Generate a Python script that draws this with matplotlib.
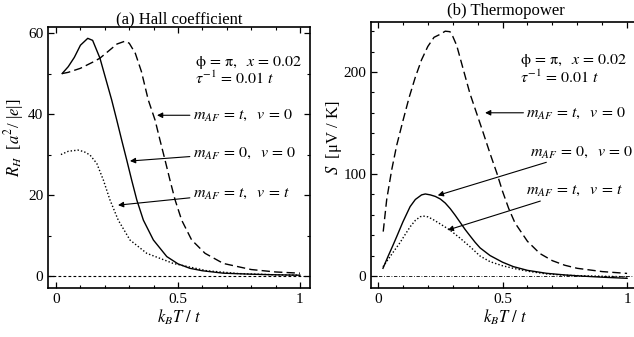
import matplotlib
matplotlib.use("Agg")
import matplotlib.pyplot as plt
from matplotlib.ticker import MultipleLocator

plt.rcParams['font.family'] = ['Liberation Serif', 'DejaVu Serif']
plt.rcParams['mathtext.fontset'] = 'stix'

# ---- (a) Hall coefficient ----
hall_solid_x = [0.025, 0.05, 0.075, 0.1, 0.13, 0.15, 0.18, 0.2, 0.228, 0.249, 0.269, 0.29,
                0.31, 0.331, 0.358, 0.399, 0.454, 0.5, 0.549, 0.6, 0.686, 0.8, 0.9, 1.0]
hall_solid_y = [50, 51.7, 54, 57, 58.7, 58.2, 53.8, 49.5, 43.5, 38.5, 33.6, 28.6,
                23.7, 18.8, 13.8, 8.9, 4.8, 3.0, 1.9, 1.3, 0.7, 0.45, 0.3, 0.2]

hall_dash_x = [0.025, 0.05, 0.1, 0.15, 0.18, 0.2, 0.25, 0.283, 0.3, 0.325, 0.35, 0.378,
               0.406, 0.426, 0.447, 0.467, 0.488, 0.515, 0.556, 0.611, 0.686, 0.8, 0.9, 1.0]
hall_dash_y = [50, 50.3, 51.3, 52.8, 53.8, 54.8, 57.3, 58, 57.5, 55, 50.5, 43.5,
               38.5, 33.6, 28.6, 23.7, 18.8, 13.8, 8.9, 5.6, 3.1, 1.6, 1.0, 0.7]

hall_dot_x = [0.02, 0.05, 0.09, 0.115, 0.139, 0.167, 0.194, 0.221, 0.255, 0.303, 0.372,
              0.481, 0.618, 0.75, 0.9, 1.0]
hall_dot_y = [30, 30.8, 31.1, 30.7, 29.9, 27.8, 23.7, 18.8, 13.8, 8.9, 5.6,
              3.1, 1.3, 0.6, 0.3, 0.2]

# ---- (b) Thermopower ----
tp_dash_x = [0.021, 0.035, 0.055, 0.075, 0.1, 0.125, 0.15, 0.175, 0.2, 0.225, 0.25, 0.27,
             0.289, 0.3, 0.316, 0.343, 0.369, 0.396, 0.423, 0.45, 0.477, 0.5, 0.525, 0.55,
             0.6, 0.65, 0.7, 0.75, 0.8, 0.9, 1.0]
tp_dash_y = [43.5, 75, 104, 128, 152, 175, 195, 212, 225, 234, 237, 240,
             239.5, 235, 226, 202, 179, 159.5, 140, 120, 101, 83, 66, 52,
             34, 22, 15, 10.5, 7.5, 4.3, 2.5]

tp_solid_x = [0.02, 0.04, 0.06, 0.075, 0.1, 0.129, 0.15, 0.175, 0.19, 0.21, 0.23, 0.25,
              0.27, 0.29, 0.31, 0.33, 0.35, 0.369, 0.39, 0.41, 0.45, 0.5, 0.543, 0.6,
              0.677, 0.75, 0.81, 0.9, 1.0]
tp_solid_y = [7.5, 19, 30, 38.5, 53, 68, 75, 79.5, 80.4, 79.5, 78, 75.5,
              71.5, 66, 59.5, 52.5, 45.5, 39.5, 33, 27.5, 20, 13.5, 9.2, 5.5,
              2.6, 1, 0, -1.2, -2.3]

tp_dot_x = [0.02, 0.04, 0.06, 0.088, 0.11, 0.13, 0.15, 0.169, 0.18, 0.2, 0.22, 0.25,
            0.289, 0.33, 0.369, 0.41, 0.45, 0.5, 0.543, 0.6, 0.677, 0.75, 0.85, 1.0]
tp_dot_y = [9, 16, 23, 32.5, 41, 48.5, 54.5, 58, 58.8, 58, 55.5, 51,
            45, 37, 28.8, 19.5, 14, 10, 7.5, 4.7, 2, 0.7, 0, -0.8]

curve_labels = [r'$m_{AF}\,=\,t,\ \ v\,=\,\mathit{0}$',
                r'$m_{AF}\,=\,\mathit{0},\ \ v\,=\,\mathit{0}$',
                r'$m_{AF}\,=\,t,\ \ v\,=\,t$']
param_line1 = r'$\mathrm{\phi}\,=\,\mathrm{\pi},\ \ x\,=\,\mathit{0.02}$'
param_line2 = r'$\tau^{-1}\,=\,\mathit{0.01}\ t$'

fig = plt.figure(figsize=(6.34, 3.37), dpi=100)
ax1 = fig.add_axes([0.0757, 0.1454, 0.4132, 0.7745])
ax2 = fig.add_axes([0.5852, 0.1454, 0.4243, 0.7893])

dash_style = (0, (6, 3))
dot_style = (0, (1, 1.5))


def style_axes(ax):
    ax.tick_params(which='both', direction='in', top=True, right=True, labelsize=11)
    ax.tick_params(which='major', length=4, width=0.9)
    ax.tick_params(which='minor', length=2.5, width=0.8)
    for sp in ax.spines.values():
        sp.set_linewidth(1.2)
    ax.set_xticks([0, 0.5, 1])
    ax.set_xticklabels(['0', '0.5', '1'])
    ax.xaxis.set_minor_locator(MultipleLocator(0.1))
    ax.set_xlabel(r'$k_BT\ /\ t$', fontsize=12, labelpad=1)


# panel (a)
ax1.plot(hall_solid_x, hall_solid_y, color='black', lw=1.0)
ax1.plot(hall_dash_x, hall_dash_y, color='black', lw=1.0, linestyle=dash_style)
ax1.plot(hall_dot_x, hall_dot_y, color='black', lw=1.0, linestyle=dot_style)
ax1.axhline(0, color='black', lw=0.8, linestyle=(0, (2.5, 2)))
ax1.set_xlim(-0.033, 1.041)
ax1.set_ylim(-2.96, 61.5)
ax1.set_yticks([0, 20, 40, 60])
ax1.yaxis.set_minor_locator(MultipleLocator(10))
style_axes(ax1)
ax1.set_ylabel(r'$R_H$  [$a^2$/ |$e$|]', fontsize=12)
ax1.yaxis.set_label_coords(-0.085, 0.575)
ax1.set_title('(a) Hall coefficient', fontsize=12, pad=2)
ax1.text(0.57, 52.8, param_line1, fontsize=11.5, va='center')
ax1.text(0.57, 48.6, param_line2, fontsize=11.5, va='center')

arrow = dict(arrowstyle='-|>', color='black', lw=0.8, mutation_scale=8, shrinkA=0, shrinkB=0)
ax1.annotate(curve_labels[0], xy=(0.414, 39.7), xytext=(0.56, 39.7), fontsize=11.5,
             va='center', arrowprops=arrow)
ax1.annotate(curve_labels[1], xy=(0.303, 28.4), xytext=(0.56, 30.5), fontsize=11.5,
             va='center', arrowprops=arrow)
ax1.annotate(curve_labels[2], xy=(0.254, 17.5), xytext=(0.56, 20.6), fontsize=11.5,
             va='center', arrowprops=arrow)

# panel (b)
ax2.plot(tp_solid_x, tp_solid_y, color='black', lw=1.0)
ax2.plot(tp_dash_x, tp_dash_y, color='black', lw=1.0, linestyle=dash_style)
ax2.plot(tp_dot_x, tp_dot_y, color='black', lw=1.0, linestyle=dot_style)
ax2.axhline(0, color='black', lw=0.6, linestyle=(0, (4, 2, 1, 2)))
ax2.set_xlim(-0.028, 1.052)
ax2.set_ylim(-11.8, 249)
ax2.set_yticks([0, 100, 200])
ax2.yaxis.set_minor_locator(MultipleLocator(20))
style_axes(ax2)
ax2.set_ylabel(r'$S$  [μV / K]', fontsize=12)
ax2.yaxis.set_label_coords(-0.1, 0.564)
ax2.set_title('(b) Thermopower', fontsize=12, pad=5)
ax2.text(0.57, 211, param_line1, fontsize=11.5, va='center')
ax2.text(0.57, 194, param_line2, fontsize=11.5, va='center')

ax2.annotate(curve_labels[0], xy=(0.43, 160), xytext=(0.595, 160), fontsize=11.5,
             va='center', arrowprops=arrow)
ax2.annotate(curve_labels[1], xy=(0.24, 79), xytext=(0.61, 122), fontsize=11.5,
             va='center', arrowprops=arrow)
ax2.annotate(curve_labels[2], xy=(0.28, 45), xytext=(0.595, 84), fontsize=11.5,
             va='center', arrowprops=arrow)

fig.savefig('out.png', dpi=100)
